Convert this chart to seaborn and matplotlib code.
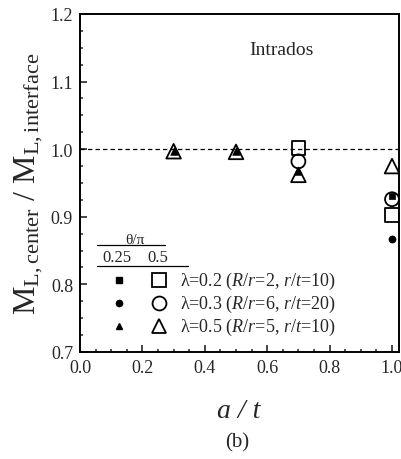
import matplotlib
matplotlib.use("Agg")
import matplotlib.pyplot as plt
import seaborn as sns
import pandas as pd
from matplotlib.ticker import MultipleLocator

# ---- data ----
# open markers: theta/pi = 0.5
open_sq_x = [0.7, 1.0]
open_sq_y = [1.002, 0.903]
open_ci_x = [0.7, 1.0]
open_ci_y = [0.982, 0.926]
open_tr_x = [0.3, 0.5, 0.7, 1.0]
open_tr_y = [0.997, 0.996, 0.962, 0.975]
# filled markers: theta/pi = 0.25
fill_sq_x = [1.0]
fill_sq_y = [0.931]
fill_ci_x = [1.0]
fill_ci_y = [0.867]
fill_tr_x = [0.3, 0.5, 0.7]
fill_tr_y = [0.998, 0.997, 0.968]

legend_labels = [r"λ=0.2 ($\mathit{R/r}$=2, $\mathit{r/t}$=10)",
                 r"λ=0.3 ($\mathit{R/r}$=6, $\mathit{r/t}$=20)",
                 r"λ=0.5 ($\mathit{R/r}$=5, $\mathit{r/t}$=10)"]
theta_cols = ["0.25", "0.5"]

sns.set_style("ticks")
plt.rcParams["font.family"] = ["Liberation Serif", "DejaVu Serif"]
plt.rcParams["mathtext.fontset"] = "custom"
plt.rcParams["mathtext.rm"] = "Liberation Serif"
plt.rcParams["mathtext.it"] = "Liberation Serif:italic"

fig = plt.figure(figsize=(4.01, 4.60), dpi=100)
ax = fig.add_axes([80/401, 1-353/460, 319/401, 338/460])

def scat(x, y, marker, s, filled):
    df = pd.DataFrame({"x": x, "y": y})
    sns.scatterplot(data=df, x="x", y="y", marker=marker, s=s, ax=ax, legend=False)
    coll = ax.collections[-1]
    if filled:
        coll.set_facecolor("black")
        coll.set_edgecolor("black")
        coll.set_linewidth(0.5)
    else:
        coll.set_facecolor("none")
        coll.set_edgecolor("black")
        coll.set_linewidth(1.3)
    coll.set_zorder(3)

scat(fill_sq_x, fill_sq_y, "s", 20, True)
scat(fill_ci_x, fill_ci_y, "o", 26, True)
scat(fill_tr_x, fill_tr_y, "^", 30, True)
scat(open_sq_x, open_sq_y, "s", 95, False)
scat(open_ci_x, open_ci_y, "o", 100, False)
scat(open_tr_x, open_tr_y, "^", 110, False)

ax.axhline(1.0, color="black", lw=0.9, ls=(0, (3.5, 2.5)), zorder=1)

ax.set_xlim(0, 1.0224)
ax.set_ylim(0.7, 1.2)
ax.xaxis.set_major_locator(MultipleLocator(0.2))
ax.xaxis.set_minor_locator(MultipleLocator(0.05))
ax.yaxis.set_major_locator(MultipleLocator(0.1))
ax.yaxis.set_minor_locator(MultipleLocator(0.025))
ax.xaxis.set_major_formatter(matplotlib.ticker.FormatStrFormatter("%.1f"))
ax.yaxis.set_major_formatter(matplotlib.ticker.FormatStrFormatter("%.1f"))
ax.tick_params(which="major", direction="in", length=5, width=1.2, labelsize=13, pad=5,
               top=False, right=False)
ax.tick_params(which="minor", direction="in", length=2.5, width=1.1, top=False, right=False)
for sp in ax.spines.values():
    sp.set_linewidth(1.4)
    sp.set_color("black")
ax.set_xlabel("")
ax.set_ylabel(r"$\mathrm{M}_{\mathrm{L,center}}$ / $\mathrm{M}_{\mathrm{L,interface}}$", fontsize=23)
ax.yaxis.set_label_coords(-0.11, 0.5)

fig.text(239/401, 1-412/460, "a / t", style="italic", fontsize=20, ha="center", va="center")
fig.text(237/401, 1-443/460, "(b)", fontsize=15, ha="center", va="center")

ax.text(0.63, 0.896, "Intrados", transform=ax.transAxes, fontsize=14, ha="center", va="center")

# ---- legend block ----
T = ax.transAxes
ax.text(0.172, 0.334, "θ/π", transform=T, fontsize=11, ha="center", va="center")
ax.plot([0.053, 0.266], [0.317, 0.317], transform=T, color="black", lw=0.9)
ax.text(0.116, 0.281, theta_cols[0], transform=T, fontsize=12, ha="center", va="center")
ax.text(0.245, 0.281, theta_cols[1], transform=T, fontsize=12, ha="center", va="center")
ax.plot([0.053, 0.339], [0.254, 0.254], transform=T, color="black", lw=0.9)
rows_y = [0.213, 0.145, 0.077]
mk = ["s", "o", "^"]
for ry, m, lab in zip(rows_y, mk, legend_labels):
    ax.plot([0.122], [ry], transform=T, marker=m, ms=4.5, color="black", ls="none")
    ax.plot([0.248], [ry], transform=T, marker=m, ms=10, mfc="none", mec="black", mew=1.3, ls="none")
    ax.text(0.313, ry, lab, transform=T, fontsize=13, ha="left", va="center")

fig.savefig("out.png", dpi=100)
